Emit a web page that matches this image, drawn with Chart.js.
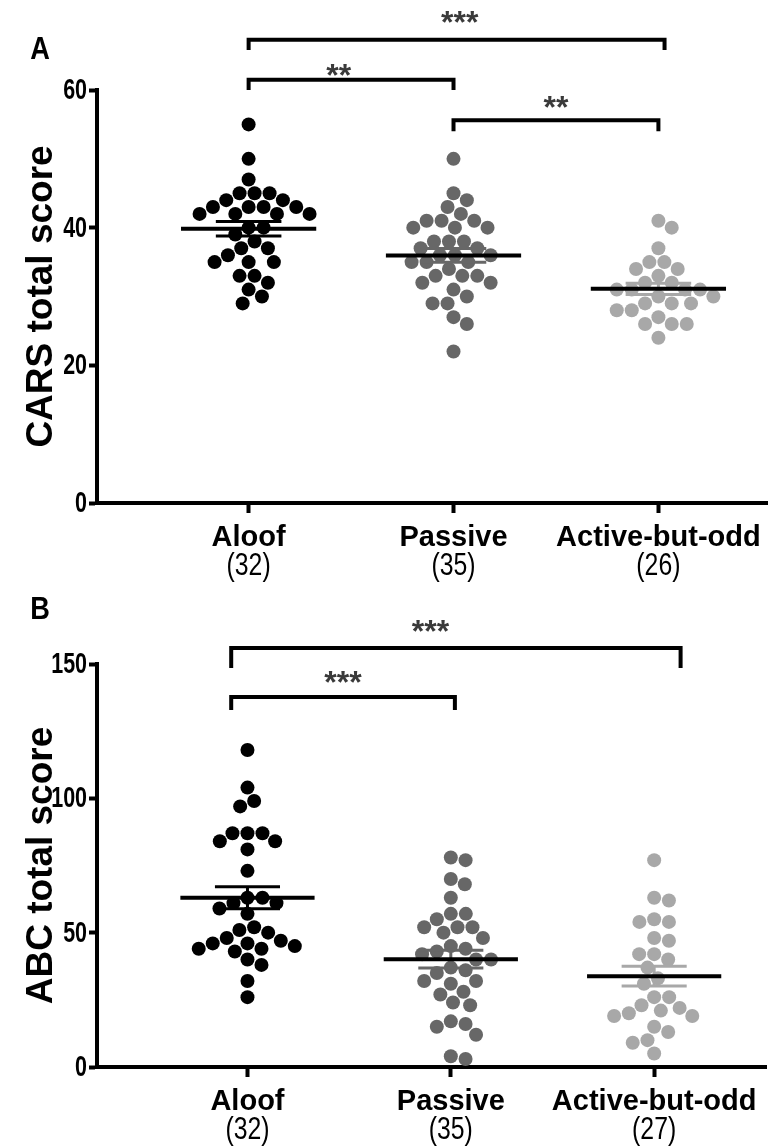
<!DOCTYPE html>
<html lang="en">
<head>
<meta charset="UTF-8">
<title>CARS and ABC total scores by social subtype</title>
<script src="https://cdn.jsdelivr.net/npm/chart.js"></script>
<style>
    html, body { margin: 0; padding: 0; background: #fff; }
    .panel { position: relative; width: 774px; }
    #panelA { height: 590px; }
    #panelB { height: 556px; }
</style>
</head>
<body>
<div class="panel" id="panelA"><canvas id="chartA"></canvas></div>
<div class="panel" id="panelB"><canvas id="chartB"></canvas></div>
<script>
// categories and group sizes
const groups = ['Aloof', 'Passive', 'Active-but-odd'];
const carsCounts = ['(32)', '(35)', '(26)'];
const abcCounts = ['(32)', '(35)', '(27)'];

// tick labels
const carsTicks = [0, 20, 40, 60];
const abcTicks = [0, 50, 100, 150];

// CARS total score (panel A)
const carsAloof = [55, 50, 47, 45, 45, 45, 44, 44, 43, 43, 43, 43, 42, 42, 42, 42, 40, 40, 39, 38, 37, 37, 36, 35, 35, 35, 33, 33, 32, 31, 30, 29];
const carsPassive = [50, 45, 44, 43, 42, 41, 41, 41, 40, 40, 40, 38, 38, 38, 37, 37, 36, 36, 36, 35, 35, 35, 34, 33, 33, 33, 32, 32, 31, 30, 29, 29, 27, 26, 22];
const carsActive = [41, 40, 37, 35, 35, 34, 34, 33, 32, 32, 31, 31, 31, 31, 30, 30, 29, 29, 29, 28, 28, 27, 26, 26, 26, 24];

// ABC total score (panel B)
const abcAloof = [118, 104, 99, 97, 87, 87, 87, 84, 84, 81, 73, 63, 63, 61, 61, 59, 57, 52, 51, 50, 48, 47, 46, 46, 45, 44, 44, 43, 40, 38, 32, 26];
const abcPassive = [78, 77, 70, 68, 63, 57, 57, 55, 52, 52, 52, 50, 48, 45, 44, 43, 42, 40, 40, 37, 36, 35, 32, 32, 31, 28, 27, 24, 23, 17, 16, 15, 12, 4, 3];
const abcActive = [77, 63, 62, 55, 54, 54, 48, 47, 42, 42, 40, 37, 33, 31, 26, 26, 23, 22, 21, 20, 19, 19, 15, 13, 10, 9, 5];

// significance brackets: from/to in category units, levels in score units
const carsBrackets = [
    { from: 0, to: 2.03, bar: 67.3, foot: 65.8, label: '***', at: 1.03, labelY: 70.9 },
    { from: 0, to: 1, bar: 61.5, foot: 60, label: '**', at: 0.44, labelY: 63.2 },
    { from: 1, to: 2, bar: 55.6, foot: 54, label: '**', at: 1.5, labelY: 58.5 }
];
const abcBrackets = [
    { from: -0.08, to: 2.13, bar: 156, foot: 148.5, label: '***', at: 0.9, labelY: 165 },
    { from: -0.08, to: 1.02, bar: 137.7, foot: 132.9, label: '***', at: 0.47, labelY: 146 }
];

const colors = ['#000000', '#676767', '#a8a8a8'];
const sans = "'Liberation Sans', Arial, sans-serif";

function mean(a) { return a.reduce((s, v) => s + v, 0) / a.length; }
function sem(a) {
    const m = mean(a);
    const sd = Math.sqrt(a.reduce((s, v) => s + (v - m) * (v - m), 0) / (a.length - 1));
    return sd / Math.sqrt(a.length);
}

// beeswarm: horizontal offsets (px) so dots don't stack
function swarm(values, yScale, d) {
    const order = values.map((v, i) => i).sort((a, b) => values[b] - values[a]);
    const placed = [];
    const out = new Array(values.length);
    for (const i of order) {
        const y = yScale.getPixelForValue(values[i]);
        const cand = [0];
        placed.forEach(p => {
            const dy = Math.abs(p.y - y);
            if (dy < d) {
                const dx = Math.sqrt(d * d - dy * dy);
                cand.push(p.x + dx, p.x - dx);
            }
        });
        cand.sort((a, b) => Math.abs(a) - Math.abs(b));
        let pick = 0;
        for (const c of cand) {
            if (placed.every(p => (p.x - c) ** 2 + (p.y - y) ** 2 >= d * d - 0.01)) { pick = c; break; }
        }
        placed.push({ x: pick, y: y });
        out[i] = pick;
    }
    return out;
}

// condensed text, like the narrow face of the original figure
function narrowText(ctx, text, x, y, squeeze, align) {
    ctx.save();
    ctx.translate(x, y);
    ctx.scale(squeeze, 1);
    ctx.textAlign = align;
    ctx.fillText(text, 0, 0);
    ctx.restore();
}

function decor(cfg) {
    return {
        id: 'decor',
        afterDatasetsDraw(chart) {
            const { ctx, scales: { x, y } } = chart;
            const ppu = x.getPixelForValue(1) - x.getPixelForValue(0);
            ctx.save();
            cfg.series.forEach((vals, i) => {
                const cx = x.getPixelForValue(i);
                const m = mean(vals), s = sem(vals);
                const yt = y.getPixelForValue(m + s), yb = y.getPixelForValue(m - s);
                ctx.strokeStyle = colors[i];
                ctx.lineWidth = 3;
                ctx.beginPath();
                ctx.moveTo(cx - 0.16 * ppu, yt); ctx.lineTo(cx + 0.16 * ppu, yt);
                ctx.moveTo(cx - 0.16 * ppu, yb); ctx.lineTo(cx + 0.16 * ppu, yb);
                ctx.moveTo(cx, yt); ctx.lineTo(cx, yb);
                ctx.stroke();
                ctx.strokeStyle = '#000';
                ctx.lineWidth = 4;
                ctx.beginPath();
                ctx.moveTo(cx - 0.33 * ppu, y.getPixelForValue(m));
                ctx.lineTo(cx + 0.33 * ppu, y.getPixelForValue(m));
                ctx.stroke();
            });
            ctx.restore();
        },
        afterDraw(chart) {
            const { ctx, chartArea, scales: { x, y } } = chart;
            ctx.save();
            // y tick labels
            ctx.fillStyle = '#000';
            ctx.textBaseline = 'middle';
            ctx.font = 'bold 29px ' + sans;
            cfg.ticks.forEach(v => {
                narrowText(ctx, String(v), chartArea.left - 10, y.getPixelForValue(v) + 1, 0.74, 'right');
            });
            // brackets
            ctx.strokeStyle = '#000';
            ctx.lineWidth = 4;
            cfg.brackets.forEach(b => {
                const x1 = x.getPixelForValue(b.from), x2 = x.getPixelForValue(b.to);
                const yb = y.getPixelForValue(b.bar), yf = y.getPixelForValue(b.foot);
                ctx.beginPath();
                ctx.moveTo(x1, yf); ctx.lineTo(x1, yb); ctx.lineTo(x2, yb); ctx.lineTo(x2, yf);
                ctx.stroke();
                ctx.fillStyle = '#3a3a3a';
                ctx.font = 'bold 32px ' + sans;
                ctx.textAlign = 'center';
                ctx.textBaseline = 'alphabetic';
                ctx.fillText(b.label, x.getPixelForValue(b.at), y.getPixelForValue(b.labelY) + 18);
            });
            // category labels
            ctx.fillStyle = '#000';
            ctx.textBaseline = 'middle';
            groups.forEach((g, i) => {
                const cx = x.getPixelForValue(i);
                ctx.font = 'bold 29px ' + sans;
                ctx.textAlign = 'center';
                ctx.fillText(g, cx, chartArea.bottom + 35);
                ctx.font = '31px ' + sans;
                narrowText(ctx, cfg.counts[i], cx, chartArea.bottom + 63, 0.8, 'center');
            });
            // panel letter
            ctx.font = 'bold 32px ' + sans;
            narrowText(ctx, cfg.letter, 40, cfg.letterY, 0.85, 'center');
            ctx.restore();
        }
    };
}

function makeChart(id, cfg) {
    const chart = new Chart(document.getElementById(id), {
        type: 'scatter',
        data: {
            datasets: cfg.series.map((vals, i) => ({
                label: groups[i],
                data: vals.map(v => ({ x: i, y: v })),
                backgroundColor: colors[i],
                borderColor: colors[i],
                borderWidth: 0,
                pointRadius: 7,
                pointHoverRadius: 7,
                clip: false
            }))
        },
        options: {
            responsive: true,
            maintainAspectRatio: false,
            animation: false,
            events: [],
            layout: { padding: { top: cfg.top, right: cfg.right, left: 0, bottom: 0 } },
            plugins: { legend: { display: false }, tooltip: { enabled: false } },
            scales: {
                x: {
                    type: 'linear',
                    min: -0.74,
                    max: cfg.xMax,
                    afterBuildTicks: s => { s.ticks = groups.map((g, i) => ({ value: i })); },
                    afterFit: s => { s.height = cfg.xHeight; },
                    ticks: { display: false },
                    grid: { drawOnChartArea: false, drawTicks: true, tickLength: 10, tickWidth: 4, tickColor: '#000' },
                    border: { display: true, color: '#000', width: 4 }
                },
                y: {
                    min: cfg.ticks[0],
                    max: cfg.ticks[cfg.ticks.length - 1],
                    afterBuildTicks: s => { s.ticks = cfg.ticks.map(v => ({ value: v })); },
                    afterFit: s => { s.width = 97; },
                    ticks: { display: false },
                    grid: { drawOnChartArea: false, drawTicks: true, tickLength: 8, tickWidth: 4, tickColor: '#000' },
                    border: { display: true, color: '#000', width: 4 },
                    title: {
                        display: true,
                        text: cfg.title,
                        color: '#000',
                        font: { family: sans, weight: 'bold', size: 37 },
                        padding: { top: 20, bottom: 0 }
                    }
                }
            }
        },
        plugins: [decor(cfg)]
    });
    // spread the dots of each group from the fitted scales, then redraw
    const ppu = chart.scales.x.getPixelForValue(1) - chart.scales.x.getPixelForValue(0);
    cfg.series.forEach((vals, i) => {
        const off = swarm(vals, chart.scales.y, 15);
        chart.data.datasets[i].data = vals.map((v, k) => ({ x: i + off[k] / ppu, y: v }));
    });
    chart.update('none');
    return chart;
}

makeChart('chartA', {
    series: [carsAloof, carsPassive, carsActive],
    counts: carsCounts,
    ticks: carsTicks,
    title: 'CARS total score',
    brackets: carsBrackets,
    letter: 'A', letterY: 50,
    top: 90, right: 4, xHeight: 87, xMax: 2.53
});
makeChart('chartB', {
    series: [abcAloof, abcPassive, abcActive],
    counts: abcCounts,
    ticks: abcTicks,
    title: 'ABC total score',
    brackets: abcBrackets,
    letter: 'B', letterY: 20,
    top: 74, right: 8, xHeight: 79, xMax: 2.55
});
</script>
</body>
</html>
